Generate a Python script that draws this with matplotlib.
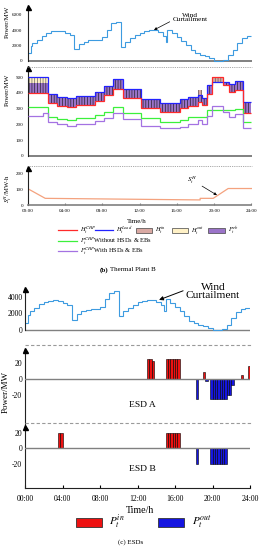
import matplotlib
matplotlib.use('Agg')
import matplotlib.pyplot as plt
import numpy as np
from matplotlib.patches import Rectangle

plt.rcParams['font.family'] = ['Liberation Serif', 'DejaVu Serif']
plt.rcParams['mathtext.fontset'] = 'stix'
plt.rcParams['hatch.linewidth'] = 0.45
plt.rcParams['axes.unicode_minus'] = False

# ---------------- data ----------------
# (b) Thermal plant B: wind power (MW), stepwise
wind_b_edges = [0, 0.35, 0.5, 1.0, 1.5, 2.0, 2.5, 3.0, 3.5, 4.0, 4.5, 5.0, 5.5, 6.0, 6.5, 7.0,
                7.5, 8.0, 8.5, 9.0, 9.5, 10.0, 10.5, 11.0, 11.5, 12.0, 12.5, 13.0, 13.5, 14.0,
                14.5, 14.8, 15.0, 15.5, 16.0, 16.5, 17.0, 17.5, 18.0, 18.5, 19.0, 19.5, 20.0,
                20.5, 21.0, 21.5, 22.0, 22.5, 23.0, 23.5, 24.0]
wind_b = [1000, 2000, 2300, 2800, 3300, 3600, 3850, 3950, 3850, 3650, 3350, 1550, 2200, 2500,
          2700, 2750, 2700, 3100, 4000, 4900, 5100, 1870, 2500, 2950, 3350, 3700, 3950, 4100,
          4050, 3800, 3300, 2500, 4000, 3600, 3100, 2600, 2100, 1400, 1100, 800, 600, 350, 50,
          0, 150, 800, 1500, 2400, 3000, 3250]

# heat / power of plant B (MW)
heat_edges = [0, 1.7, 2.2, 3.2, 4.2, 5.2, 7.2, 8.2, 9.2, 10.2, 12.2, 14.2, 15.2, 16.3, 17.2,
              18.3, 18.7, 19.2, 19.8, 21.0, 21.6, 22.2, 23.1, 24]
h_chp = [400, 400, 334, 318, 308, 322, 348, 387, 425, 366, 302, 276, 280, 302, 318, 345, 325,
         395, 505, 450, 405, 420, 275]
h_load = [500, 500, 393, 376, 365, 380, 404, 446, 489, 425, 361, 334, 338, 361, 376, 390, 370,
          450, 470, 468, 455, 478, 340]
h_out = [39, 39, 0, 0, 0, 0, 0, 0, 0, 0, 0, 0, 0, 0, 0, 0, 0, 0, 0, 0, 0, 0, 0]
h_in = [0, 0, 0, 0, 0, 0, 0, 0, 0, 0, 0, 0, 0, 0, 0, 30, 0, 0, 35, 0, 0, 0, 0]
p_chp_without = [312, 312, 245, 234, 230, 240, 259, 280, 308, 270, 238, 213, 213, 227, 245, 248,
                 248, 290, 290, 290, 290, 298, 213]
p_chp_with = [253, 274, 213, 200, 191, 204, 221, 242, 270, 232, 189, 174, 174, 185, 200, 227,
              200, 255, 318, 280, 248, 264, 178]

# heat storage state S^H (MWh)
sh_t = [0, 1.9, 18.5, 18.5, 19.9, 21.5, 24]
sh_v = [104, 42, 32, 42, 42, 104, 104]

# (c) ESDs: wind power (MW)
wind_c_edges = wind_b_edges
wind_c = [830, 1850, 2250, 2700, 3100, 3400, 3550, 3600, 3500, 3300, 3000, 1250, 2000, 2250,
          2450, 2550, 2600, 2750, 3700, 4500, 4700, 1670, 2300, 2700, 3050, 3350, 3550, 3650,
          3600, 3400, 3000, 2300, 3750, 3300, 2800, 2300, 1700, 1100, 900, 650, 450, 250, 20,
          0, 100, 650, 1450, 2200, 2600, 2700]

# ESD A / B charge (P_in) and discharge (P_out) power, 15-min bars
esd_a_in_t = [13.0, 13.25, 13.5, 15.0, 15.25, 15.5, 15.75, 16.0, 16.25, 19.0, 23.0, 23.75]
esd_a_in = [25, 25, 22, 25, 25, 25, 25, 25, 25, 8, 5, 16]
esd_a_out_t = [18.25, 19.25, 19.75, 20.0, 20.25, 20.5, 20.75, 21.0, 21.25, 21.5, 21.75, 22.0]
esd_a_out = [-25, -3, -25, -25, -25, -25, -25, -25, -25, -20, -20, -7]
esd_b_in_t = [3.5, 3.75, 15.0, 15.25, 15.5, 15.75, 16.0, 16.25]
esd_b_in = [20, 20, 20, 20, 20, 20, 20, 20]
esd_b_out_t = [18.25, 19.75, 20.0, 20.25, 20.5, 20.75, 21.0, 21.25]
esd_b_out = [-20, -20, -20, -20, -20, -20, -20, -20]

hour_ticks = [0, 4, 8, 12, 16, 20, 24]
hour_labels = ['00:00', '04:00', '08:00', '12:00', '16:00', '20:00', '24:00']

# ---------------- styling ----------------
W, H = 265, 550
fig = plt.figure(figsize=(W / 100, H / 100), dpi=100)

C_WIND = '#3D9BE0'
C_RED = '#FF2A2A'
C_BLUE = '#2222FF'
C_GREEN = '#3CF03C'
C_PURP = '#A472E2'
C_EB = '#9B74C9'
C_IN = '#D9A9A3'
C_OUT = '#FFF1C6'
C_SH = '#F4A27E'
C_ZERO = '#808080'
SPINE = '#222222'


def add_ax(x0, x1, y0, y1, xlim, ref0, ref1):
    ax = fig.add_axes([x0 / W, 1 - y1 / H, (x1 - x0) / W, (y1 - y0) / H])
    (p0, v0), (p1, v1) = ref0, ref1
    s = (v1 - v0) / (p1 - p0)
    ax.set_ylim(v0 + (y1 - p0) * s, v0 + (y0 - p0) * s)
    ax.set_xlim(*xlim)
    ax.patch.set_alpha(0)
    for side in ('top', 'right', 'bottom'):
        ax.spines[side].set_visible(False)
    ax.spines['left'].set_color(SPINE)
    ax.spines['left'].set_linewidth(0.8)
    ax.set_xticks([])
    ax.plot([0], [1], transform=ax.transAxes, marker='^', ms=3.6, color='black',
            clip_on=False, zorder=10)
    return ax


# ---------- (b) panel 1: wind ----------
TX0, TX1 = 27.5, 251.5
ax1 = add_ax(TX0, TX1, 7, 66, (0, 24), (61, 0), (15, 6000))
ax1.stairs(wind_b, wind_b_edges, baseline=None, color=C_WIND, lw=0.8)
ax1.axhline(0, color=C_ZERO, lw=1.4, zorder=0)
ax1.spines['left'].set_bounds(0, ax1.get_ylim()[1])
ax1.set_yticks([0, 2000, 4000, 6000])
ax1.tick_params(axis='y', labelsize=3.6, length=0, pad=3.5)
ax1.annotate('Wind\nCurtailment', xy=(13.55, 4050), xycoords='data',
             xytext=(190, H - 17.5), textcoords='figure pixels', ha='center', va='center',
             fontsize=5.2, linespacing=0.9,
             arrowprops=dict(arrowstyle='-|>', color='black', lw=0.5, mutation_scale=4,
                             shrinkA=0, shrinkB=0, relpos=(0.05, 0.3)))

# ---------- (b) panel 2: heat / power ----------
ax2 = add_ax(TX0, TX1, 68, 158, (0, 24), (155.7, 0), (77.3, 500))
edges = np.array(heat_edges)
hc = np.array(h_chp, float)
hl = np.array(h_load, float)
ho = np.array(h_out, float)
hi = np.array(h_in, float)
upper = np.maximum(hl - ho, hc)
ax2.stairs(upper, edges, baseline=hc, fill=True, facecolor=C_EB, edgecolor='#1a1a1a',
           hatch='||||||', lw=0, zorder=1)
ax2.stairs(hl, edges, baseline=hl - ho, fill=True, facecolor=C_OUT, edgecolor='#555555',
           hatch='||||||', lw=0, zorder=1)
ax2.stairs(hl + hi, edges, baseline=hl, fill=True, facecolor=C_IN, edgecolor='#555555',
           hatch='||||||', lw=0, zorder=1)
ax2.stairs(hl, edges, baseline=None, color=C_BLUE, lw=0.9, zorder=3)
ax2.stairs(hc, edges, baseline=None, color=C_RED, lw=0.9, zorder=3)
ax2.stairs(p_chp_without, edges, baseline=None, color=C_GREEN, lw=0.9, zorder=3)
ax2.stairs(p_chp_with, edges, baseline=None, color=C_PURP, lw=0.9, zorder=3)
ax2.axhline(0, color=C_ZERO, lw=1.4, zorder=0)
ax2.spines['left'].set_bounds(0, ax2.get_ylim()[1])
ax2.set_yticks([0, 100, 200, 300, 400, 500])
ax2.tick_params(axis='y', labelsize=3.6, length=0, pad=3)

# ---------- (b) panel 3: S^H ----------
ax3 = add_ax(TX0, TX1, 168, 205, (0, 24), (205, 0), (173.3, 200))
ax3.plot(sh_t, sh_v, color=C_SH, lw=0.9)
ax3.spines['bottom'].set_visible(True)
ax3.spines['bottom'].set_color(C_ZERO)
ax3.spines['bottom'].set_linewidth(1.2)
ax3.set_yticks([0, 100, 200])
ax3.set_xticks(hour_ticks)
ax3.set_xticklabels(hour_labels)
ax3.tick_params(axis='y', labelsize=3.6, length=0, pad=3)
ax3.tick_params(axis='x', labelsize=3.6, length=1.2, direction='in', pad=3.2, color=C_ZERO)
ax3.annotate(r'$S_t^H$', xy=(20.3, 62), xycoords='data', xytext=(192, H - 180),
             textcoords='figure pixels', ha='center', va='center', fontsize=5,
             arrowprops=dict(arrowstyle='-|>', color='black', lw=0.5, mutation_scale=4,
                             shrinkA=2, shrinkB=0))

# ---------- (c) ESD wind ----------
EX0, EX1 = 25, 250
ax4 = add_ax(EX0, EX1, 289, 334, (0, 24), (330, 0), (297, 4000))
ax4.stairs(wind_c, wind_c_edges, baseline=None, color=C_WIND, lw=0.8)
ax4.axhline(0, color=C_ZERO, lw=1.0, zorder=0)
ax4.spines['left'].set_bounds(0, ax4.get_ylim()[1])
ax4.set_yticks([0, 2000, 4000])
ax4.tick_params(axis='y', labelsize=5.5, length=0, pad=1.5)
ax4.annotate('Wind\nCurtailment', xy=(14.3, 3650), xycoords='data',
             xytext=(213, H - 291.5), textcoords='figure pixels', ha='center', va='center',
             fontsize=8.2, linespacing=0.85,
             arrowprops=dict(arrowstyle='-|>', color='black', lw=0.7, mutation_scale=6,
                             shrinkA=0, shrinkB=0, relpos=(0.12, 0.75)))

# ---------- (c) ESD A ----------
ax5 = add_ax(EX0, EX1, 350, 426, (0, 24), (379, 0), (362.7, 20))
ax5.bar(esd_a_in_t, esd_a_in, width=0.25, align='edge', color='#EE1111', edgecolor='black',
        lw=0.4, zorder=2)
ax5.bar(esd_a_out_t, esd_a_out, width=0.25, align='edge', color='#1515E0', edgecolor='black',
        lw=0.4, zorder=2)
ax5.axhline(0, color=C_ZERO, lw=1.0, zorder=3)
ax5.set_yticks([-20, 0, 20])
ax5.tick_params(axis='y', labelsize=5.5, length=0, pad=2)
ax5.text(12.5, -31.5, 'ESD A', ha='center', va='center', fontsize=6.8)

# ---------- (c) ESD B ----------
ax6 = add_ax(EX0, EX1, 427, 488, (0, 24), (448.3, 0), (432.7, 20))
ax6.bar(esd_b_in_t, esd_b_in, width=0.25, align='edge', color='#EE1111', edgecolor='black',
        lw=0.4, zorder=2)
ax6.bar(esd_b_out_t, esd_b_out, width=0.25, align='edge', color='#1515E0', edgecolor='black',
        lw=0.4, zorder=2)
ax6.axhline(0, color=C_ZERO, lw=1.0, zorder=3)
ax6.set_yticks([-20, 0, 20])
ax6.spines['bottom'].set_visible(True)
ax6.spines['bottom'].set_color(SPINE)
ax6.spines['bottom'].set_linewidth(0.8)
ax6.set_xticks(hour_ticks)
ax6.set_xticklabels(hour_labels)
ax6.tick_params(axis='y', labelsize=5.5, length=0, pad=2)
ax6.tick_params(axis='x', labelsize=5.6, length=2.2, direction='in', pad=5)
ax6.text(12.5, -26.5, 'ESD B', ha='center', va='center', fontsize=6.8)

# ---------------- overlay: labels, legends, separators ----------------
ov = fig.add_axes([0, 0, 1, 1])
ov.set_xlim(0, W)
ov.set_ylim(H, 0)
ov.axis('off')
ov.patch.set_alpha(0)
ov.set_zorder(20)

# separators
ov.plot([27.5, 252], [67, 67], ls=(0, (1, 1.2)), color='#8a8a8a', lw=0.6)
ov.plot([27.5, 252], [165.7, 165.7], ls=(0, (1, 1.2)), color='#8a8a8a', lw=0.6)
ov.plot([25, 251], [345, 345], ls=(0, (3, 2)), color='#9a9a9a', lw=0.8)
ov.plot([25, 251], [422.7, 422.7], ls=(0, (3, 2)), color='#9a9a9a', lw=0.8)

# y labels
ov.text(7.5, 22, 'Power/MW', rotation=90, ha='center', va='center', fontsize=5)
ov.text(7.5, 90, 'Power/MW', rotation=90, ha='center', va='center', fontsize=5)
ov.text(8, 189, r'$S_t^H$/MW$\cdot$h', rotation=90, ha='center', va='center', fontsize=4.8)
ov.text(5.5, 392, 'Power/MW', rotation=90, ha='center', va='center', fontsize=6.5)

# x labels
ov.text(137, 221.5, 'Time/h', ha='center', va='center', fontsize=5)
ov.text(140, 510.5, 'Time/h', ha='center', va='center', fontsize=7.2)

# legend (b)
ly1, ly2, ly3 = 230.3, 241.3, 251.3
fs_leg = 4.6
ov.plot([58, 77], [ly1, ly1], color=C_RED, lw=0.9)
ov.text(80, ly1, r'$H_t^{CHP}$', va='center', fontsize=fs_leg)
ov.plot([95, 113], [ly1, ly1], color=C_BLUE, lw=0.9)
ov.text(116, ly1, r'$H_t^{Load}$', va='center', fontsize=fs_leg)
ov.add_patch(Rectangle((136, ly1 - 2.8), 16, 5.6, facecolor=C_IN, edgecolor='#444', lw=0.5))
ov.text(155, ly1, r'$H_t^{in}$', va='center', fontsize=fs_leg)
ov.add_patch(Rectangle((172, ly1 - 2.8), 16, 5.6, facecolor=C_OUT, edgecolor='#444', lw=0.5))
ov.text(191, ly1, r'$H_t^{out}$', va='center', fontsize=fs_leg)
ov.add_patch(Rectangle((208, ly1 - 2.8), 17, 5.6, facecolor=C_EB, edgecolor='#444', lw=0.5))
ov.text(228, ly1, r'$P_t^{eb}$', va='center', fontsize=fs_leg)
ov.plot([58, 77], [ly2, ly2], color=C_GREEN, lw=0.9)
ov.text(80, ly2, r'$P_t^{CHP}$Without HSDs & EBs', va='center', fontsize=fs_leg)
ov.plot([58, 77], [ly3, ly3], color=C_PURP, lw=0.9)
ov.text(80, ly3, r'$P_t^{CHP}$With HSDs & EBs', va='center', fontsize=fs_leg)

ov.text(100, 269.7, '(b)', va='center', ha='left', fontsize=5, fontweight='bold')
ov.text(110.5, 269.7, 'Thermal Plant B', va='center', ha='left', fontsize=5)

# legend (c)
ov.add_patch(Rectangle((76, 518.3), 25.7, 8.4, facecolor='#EE1111', edgecolor='#333', lw=0.6))
ov.text(109, 522.3, r'$P_t^{in}$', va='center', fontsize=8)
ov.add_patch(Rectangle((157.7, 518.3), 26.3, 8.4, facecolor='#1515E0', edgecolor='#333', lw=0.6))
ov.text(192, 522.3, r'$P_t^{out}$', va='center', fontsize=8)

ov.text(130.5, 541.7, '(c) ESDs', va='center', ha='center', fontsize=5)

fig.savefig('out.png', dpi=100)
